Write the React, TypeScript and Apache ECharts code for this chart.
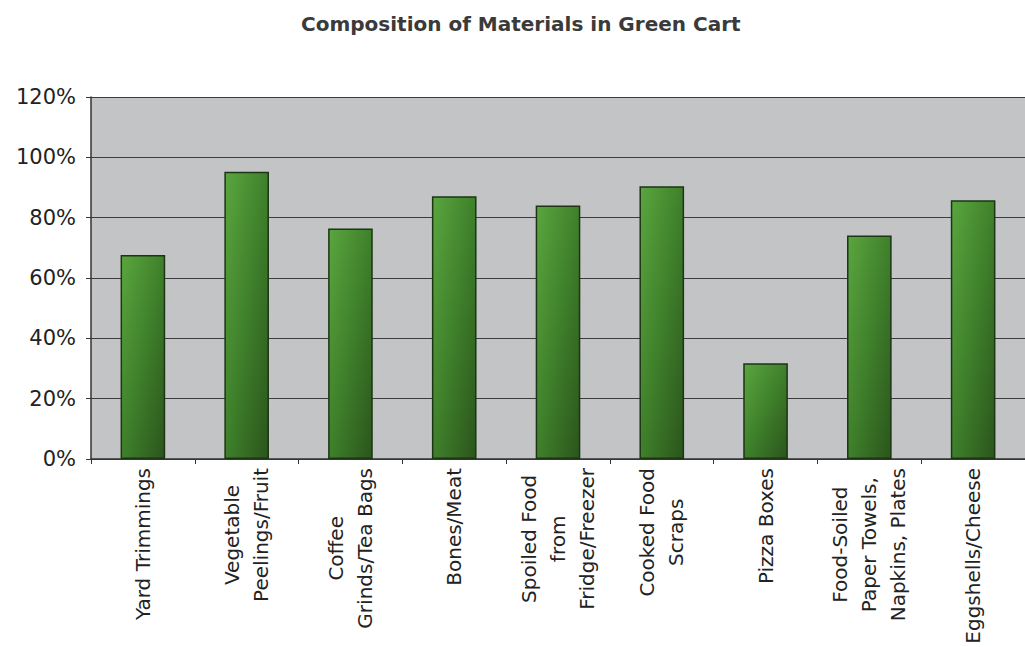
import React, { useEffect, useRef } from "react";
import * as echarts from "echarts";

const title = "Composition of Materials in Green Cart";
const categories = [
  "Yard Trimmings",
  "Vegetable\nPeelings/Fruit",
  "Coffee\nGrinds/Tea Bags",
  "Bones/Meat",
  "Spoiled Food\nfrom\nFridge/Freezer",
  "Cooked Food\nScraps",
  "Pizza Boxes",
  "Food-Soiled\nPaper Towels,\nNapkins, Plates",
  "Eggshells/Cheese",
];
const values = [0.676, 0.952, 0.764, 0.871, 0.84, 0.904, 0.317, 0.741, 0.858];
const yMin = 0;
const yMax = 1.2;
const yStep = 0.2;

export default function App() {
  const ref = useRef<HTMLDivElement>(null);
  useEffect(() => {
    if (!ref.current) return;
    const chart = echarts.init(ref.current, null, { renderer: "svg" });
    const font = "DejaVu Sans";
    chart.setOption({
      animation: false,
      backgroundColor: "#ffffff",
      title: {
        text: title,
        left: 296,
        top: 9,
        textStyle: {
          fontFamily: font,
          fontSize: 20,
          fontWeight: "bold",
          color: "#3a3a3a",
        },
      },
      grid: {
        left: 91,
        right: -4,
        top: 97,
        bottom: 188,
        show: true,
        backgroundColor: "#c2c4c6",
        borderWidth: 0,
      },
      xAxis: {
        type: "category",
        data: categories,
        axisLine: { show: true, lineStyle: { color: "#333333", width: 1.5 } },
        axisTick: { show: true, alignWithLabel: false, length: 5, lineStyle: { color: "#333333" } },
        axisLabel: {
          interval: 0,
          rotate: 90,
          margin: 9,
          fontFamily: font,
          fontSize: 20,
          lineHeight: 29,
          color: "#222222",
          formatter: (v: string) =>
            v
              .split("\n")
              .map((l) => `{c|${l}}`)
              .join("\n"),
          rich: {
            c: {
              align: "center",
              fontFamily: font,
              fontSize: 20,
              lineHeight: 29,
              color: "#222222",
            },
          },
        },
      },
      yAxis: {
        type: "value",
        min: yMin,
        max: yMax,
        interval: yStep,
        axisLine: { show: true, lineStyle: { color: "#333333", width: 1.5 } },
        axisTick: { show: true, length: 5, lineStyle: { color: "#333333" } },
        splitLine: { show: true, lineStyle: { color: "#3c3c3c", width: 1 } },
        axisLabel: {
          margin: 15,
          fontFamily: font,
          fontSize: 21,
          color: "#222222",
          formatter: (v: number) => `${Math.round(v * 100)}%`,
        },
      },
      series: [
        {
          type: "bar",
          data: values,
          barWidth: "43%",
          itemStyle: {
            borderColor: "#1d3514",
            borderWidth: 1.5,
            color: new echarts.graphic.LinearGradient(0, 0, 1, 1, [
              { offset: 0, color: "#5aa63f" },
              { offset: 0.5, color: "#3f802b" },
              { offset: 1, color: "#2b551c" },
            ]),
          },
        },
      ],
    });
    return () => chart.dispose();
  }, []);
  return (
    <div
      ref={ref}
      style={{ position: "fixed", left: 0, top: 0, width: 1025, height: 647 }}
    />
  );
}
